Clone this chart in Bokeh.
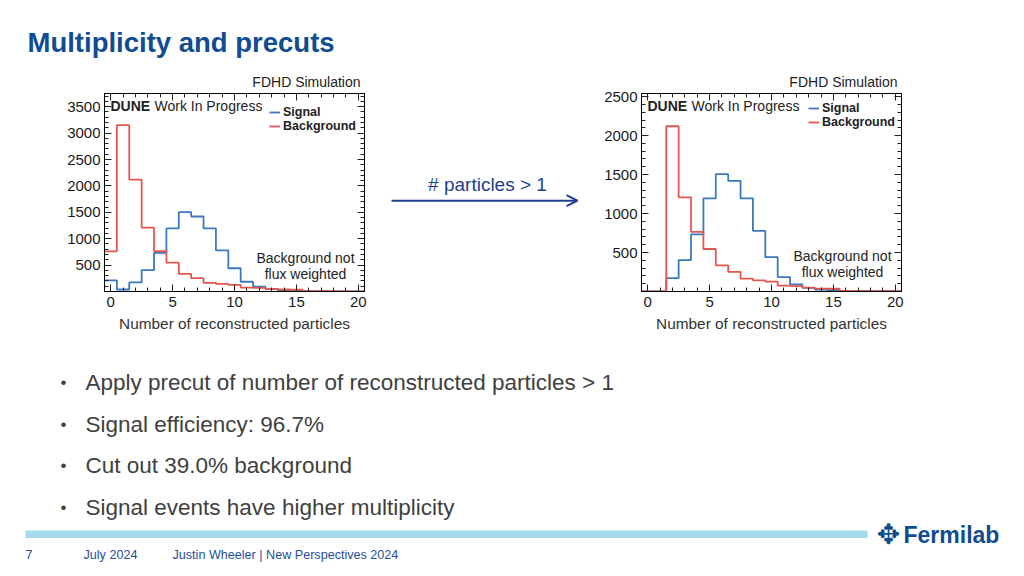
from bokeh.plotting import figure
from bokeh.layouts import row, column
from bokeh.models import (Range1d, LinearAxis, FixedTicker, Label, Legend, LegendItem,
                          Arrow, OpenHead, CustomJSTickFormatter)
from bokeh.embed import file_html
from bokeh.resources import INLINE

# ---------------- data ----------------
bin_centers = list(range(0, 21))
signal_all = [210, 38, 172, 403, 732, 1195, 1505, 1420, 1195, 778, 440, 185, 92, 47, 25, 17, 6, 5, 4, 3, 3]
background_all = [760, 3150, 2120, 1208, 765, 545, 335, 253, 165, 143, 126, 75, 70, 50, 38, 35, 8, 6, 5, 4, 3]
signal_cut = [0, 0, 172, 403, 732, 1195, 1505, 1420, 1195, 778, 440, 185, 92, 47, 25, 17, 6, 5, 4, 3, 3]
background_cut = [0, 0, 2120, 1208, 765, 545, 335, 253, 165, 143, 126, 75, 70, 50, 38, 35, 8, 6, 5, 4, 3]
x_ticks = [0, 5, 10, 15, 20]
y_ticks_left = [500, 1000, 1500, 2000, 2500, 3000, 3500]
y_ticks_right = [500, 1000, 1500, 2000, 2500]

bullets = ["Apply precut of number of reconstructed particles > 1",
           "Signal efficiency: 96.7%",
           "Cut out 39.0% background",
           "Signal events have higher multiplicity"]

FONT = "Liberation Sans"
BLUE = "#3b78c2"
RED = "#e5574c"
TITLE_BLUE = "#0f4c92"
TXT = "#222222"


def px_fig(w, h, x0, x1, y0, y1):
    f = figure(width=w, height=h, x_range=Range1d(x0, x1), y_range=Range1d(y1, y0),
               output_backend="svg", toolbar_location=None, x_axis_type=None, y_axis_type=None,
               min_border=0, outline_line_color=None)
    f.grid.visible = False
    return f


def hist_fig(width, height, bl, br, bt, bb, ymax, yticks, sig, bkg, fw, fh, leg_x, leg_top):
    p = figure(width=width, height=height, x_range=Range1d(-0.5, 20.5), y_range=Range1d(0, ymax),
               output_backend="svg", toolbar_location=None,
               min_border_left=bl, min_border_right=br, min_border_top=bt, min_border_bottom=bb,
               outline_line_color="black", outline_line_width=1)
    p.grid.visible = False
    p.title.text = "FDHD Simulation"
    p.title.align = "right"
    p.title.text_font = FONT
    p.title.text_font_size = "14px"
    p.title.text_font_style = "normal"
    p.title.text_color = TXT
    p.title.standoff = 7
    p.title.offset = 4
    edges = [c - 0.5 for c in bin_centers] + [bin_centers[-1] + 0.5]
    s = p.step(edges, sig + [sig[-1]], mode="after", line_color=BLUE, line_width=1.8)
    b = p.step(edges, bkg + [bkg[-1]], mode="after", line_color=RED, line_width=1.8)
    xt = FixedTicker(ticks=x_ticks, minor_ticks=list(range(0, 21)))
    yt = FixedTicker(ticks=yticks, minor_ticks=list(range(100, int(ymax), 100)))
    p.xaxis.ticker = xt
    p.yaxis.ticker = yt
    for ax in (p.xaxis[0], p.yaxis[0]):
        ax.major_tick_in = 7
        ax.major_tick_out = 0
        ax.minor_tick_in = 4
        ax.minor_tick_out = 0
        ax.axis_line_color = "black"
        ax.major_tick_line_color = TXT
        ax.minor_tick_line_color = TXT
        ax.major_label_text_font = FONT
        ax.major_label_text_font_size = "15px"
        ax.major_label_text_color = "#1a1a1a"
        ax.major_label_standoff = 5
    p.xaxis.axis_label = "Number of reconstructed particles"
    p.xaxis.axis_label_text_font = FONT
    p.xaxis.axis_label_text_font_size = "15.4px"
    p.xaxis.axis_label_text_font_style = "normal"
    p.xaxis.axis_label_text_color = "#333333"
    p.xaxis.axis_label_standoff = 5
    p.yaxis.major_label_standoff = 4
    blank = CustomJSTickFormatter(code="return ''")
    for loc, tk in (("above", xt), ("right", yt)):
        ax = LinearAxis(ticker=tk, formatter=blank, major_tick_in=7, major_tick_out=0,
                        minor_tick_in=4, minor_tick_out=0, major_label_standoff=0,
                        axis_line_color="black", major_tick_line_color=TXT,
                        minor_tick_line_color=TXT)
        p.add_layout(ax, loc)

    def dx(px):
        return -0.5 + px / fw * 21.0

    def dy(py):
        return ymax * (fh - py) / fh

    # annotations (positions relative to the frame's top-left, in pixels)
    p.add_layout(Label(x=dx(6), y=dy(12.5), text="DUNE", text_align="left",
                       text_baseline="middle", text_font=FONT, text_font_size="14px",
                       text_font_style="bold", text_color=TXT))
    p.add_layout(Label(x=dx(50), y=dy(12.5), text="Work In Progress", text_align="left",
                       text_baseline="middle", text_font=FONT, text_font_size="14px",
                       text_color=TXT))
    p.add_layout(Label(x=dx(fw - 59), y=dy(164), text="Background not", text_align="center",
                       text_baseline="middle", text_font=FONT, text_font_size="14px",
                       text_color=TXT))
    p.add_layout(Label(x=dx(fw - 59), y=dy(180.5), text="flux weighted", text_align="center",
                       text_baseline="middle", text_font=FONT, text_font_size="14px",
                       text_color=TXT))
    leg = Legend(items=[LegendItem(label="Signal", renderers=[s]),
                        LegendItem(label="Background", renderers=[b])],
                 location=(leg_x, fh - leg_top - 28), margin=0, padding=0, spacing=0,
                 label_text_font=FONT, label_text_font_size="12.5px",
                 label_text_font_style="bold", label_text_color=TXT,
                 label_height=12, glyph_height=12, glyph_width=11, label_standoff=3,
                 border_line_color=None, background_fill_alpha=0)
    p.add_layout(leg)
    return p


# ---------------- header (image y 0..68) ----------------
top = px_fig(1008, 68, 0, 1008, 0, 68)
top.add_layout(Label(x=27, y=42, text="Multiplicity and precuts", text_align="left",
                     text_baseline="middle", text_font=FONT, text_font_size="27.5px",
                     text_font_style="bold", text_color=TITLE_BLUE))

# ---------------- middle row (image y 68..345) ----------------
left = hist_fig(388, 277, 104, 24, 25, 54, 3750, y_ticks_left, signal_all, background_all,
                260, 198, 165, 12)
right = hist_fig(428, 277, 61, 107, 24, 53, 2540, y_ticks_right, signal_cut, background_cut,
                 260, 200, 167, 10)

mid = px_fig(192, 277, 388, 580, 68, 345)
mid.add_layout(Arrow(end=OpenHead(size=11, line_color="#1c3f8f", line_width=2),
                     x_start=391, y_start=218, x_end=577, y_end=218,
                     line_color="#1c3f8f", line_width=2))
mid.add_layout(Label(x=487, y=195, text="# particles > 1", text_align="center",
                     text_baseline="middle", text_font=FONT, text_font_size="19px",
                     text_color="#1c3f8f"))

# ---------------- bottom (image y 345..568) ----------------
bot = px_fig(1008, 223, 0, 1008, 345, 568)
ys = [382, 424, 465, 507]
for yy, t in zip(ys, bullets):
    bot.add_layout(Label(x=63, y=yy, text="•", text_align="center", text_baseline="middle",
                         text_font=FONT, text_font_size="17px", text_color="#404040"))
    bot.add_layout(Label(x=85, y=yy, text=t, text_align="left", text_baseline="middle",
                         text_font=FONT, text_font_size="22.5px", text_color="#404040"))
bot.quad(left=25, right=867, top=530, bottom=537.5, fill_color="#a6dbef", line_color=None)
for xx, t in ((25, "7"), (83, "July 2024"), (172, "Justin Wheeler | New Perspectives 2024")):
    bot.add_layout(Label(x=xx, y=554, text=t, text_align="left", text_baseline="middle",
                         text_font=FONT, text_font_size="12.6px", text_color="#1f4e9c"))
bot.add_layout(Label(x=888, y=534, text="✥", text_align="center", text_baseline="middle",
                     text_font="DejaVu Sans", text_font_size="28px", text_color=TITLE_BLUE))
bot.add_layout(Label(x=903, y=534, text="Fermilab", text_align="left", text_baseline="middle",
                     text_font=FONT, text_font_size="23px", text_font_style="bold",
                     text_color=TITLE_BLUE))

layout = column(top, row(left, mid, right), bot)
open("out.html", "w").write(file_html(layout, INLINE))
